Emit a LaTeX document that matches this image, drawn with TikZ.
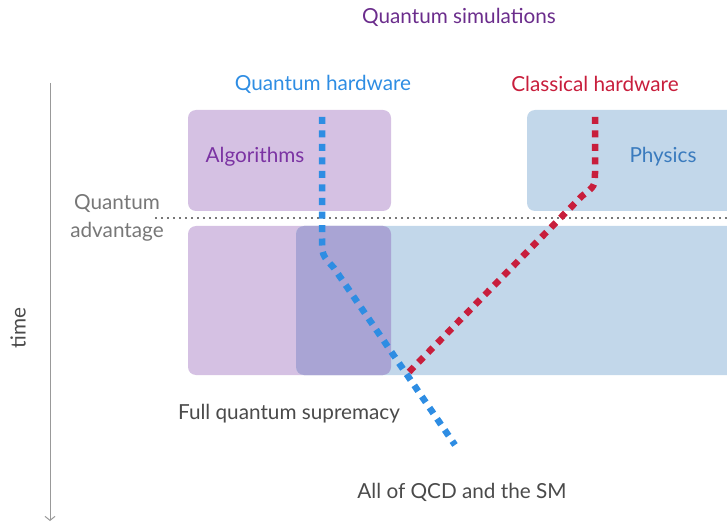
\documentclass[tikz,border=0pt]{standalone}
\usepackage{fontspec}
\setmainfont{Lato}
\usetikzlibrary{arrows.meta}
\definecolor{qpurple}{HTML}{6B2D8C}
\definecolor{algtext}{HTML}{7B33A3}
\definecolor{phystext}{HTML}{3A7BBE}
\definecolor{qblue}{HTML}{2E8DE3}
\definecolor{cred}{HTML}{C81E3C}
\definecolor{boxpurple}{HTML}{D5C1E3}
\definecolor{boxblue}{HTML}{C2D7EA}
\definecolor{boxover}{HTML}{A9A4D4}
\definecolor{gtext}{HTML}{777777}
\definecolor{dtext}{HTML}{4A4A4A}
\definecolor{axis}{HTML}{999999}
\tikzset{
  fbox/.style={rounded corners=8bp, draw=none},
  lbl/.style={font=\fontsize{20.8}{28}\selectfont, inner sep=0pt},
  qpath/.style={line width=6.5bp, dash pattern=on 7bp off 6.5bp},
}
\begin{document}
\begin{tikzpicture}[x=1bp,y=-1bp]
\useasboundingbox (0,0) rectangle (727,525);
% boxes
\fill[fbox, boxpurple] (188,110) rectangle (391,211);
\fill[fbox, boxblue] (527,110) rectangle (740,211);
\fill[fbox, boxpurple] (188,226) rectangle (391,375);
\fill[fbox, boxblue] (296,226) rectangle (740,375);
\fill[fbox, boxover] (296,226) rectangle (391,375);
% dotted line
\draw[gtext, line width=1.6bp, dash pattern=on 1.6bp off 4.4bp] (155,218) -- (727,218);
% time axis
\coordinate (ttop) at (50,83);
\coordinate (tbot) at (50,521);
\draw[axis, line width=1bp, -{Straight Barb[length=4bp,width=10bp]}] (ttop) -- (tbot);
\node[lbl, dtext, rotate=90] (time) at (18,328) {time};
% texts
\node[lbl, qpurple] (title) at (459,17) {Quantum simulations};
\node[lbl, qblue] (qh) at (323,84) {Quantum hardware};
\node[lbl, cred] (ch) at (595,84) {Classical hardware};
\node[lbl, algtext] (alg) at (255,157) {Algorithms};
\node[lbl, phystext] (phys) at (663,157) {Physics};
\node[lbl, gtext, align=center] (qa) at (117,218) {Quantum\\advantage};
\node[lbl, dtext] (fqs) at (289,414) {Full quantum supremacy};
\node[lbl, dtext] (qcd) at (462,492) {All of QCD and the SM};
% paths
\coordinate (q0) at (322,117);
\coordinate (q1) at (322,238);
\coordinate (q2) at (334,268);
\coordinate (q3) at (455,445);
\draw[qpath, qblue] (q0) -- (q1) .. controls (322,255) .. (q2) -- (q3);
\coordinate (c0) at (595,117);
\coordinate (c1) at (595,172);
\coordinate (c2) at (582,196);
\coordinate (c3) at (405,376);
\draw[qpath, cred] (c0) -- (c1) .. controls (595,186) .. (c2) -- (c3);
\end{tikzpicture}
\end{document}
